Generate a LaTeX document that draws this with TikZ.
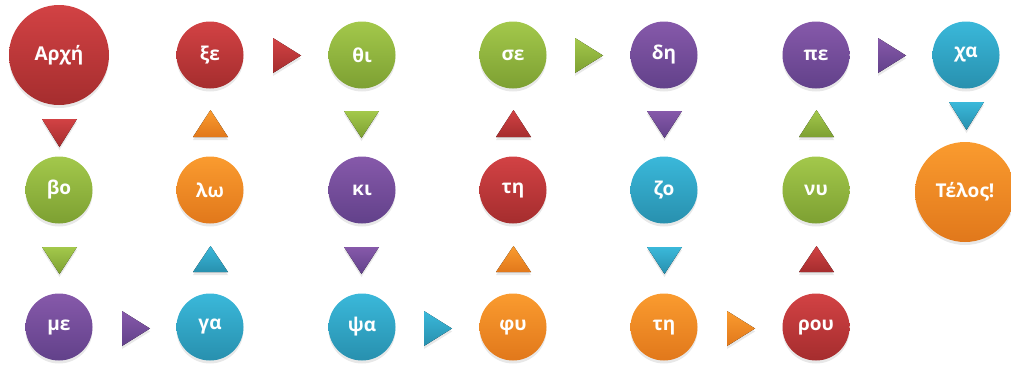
\documentclass[tikz,border=0pt]{standalone}
\usepackage{fontspec}
\setmainfont{Open Sans}
\usetikzlibrary{shadows}

\definecolor{redtop}{HTML}{D24244}
\definecolor{redbot}{HTML}{A52D2E}
\definecolor{greentop}{HTML}{A3C84B}
\definecolor{greenbot}{HTML}{7DA032}
\definecolor{purpletop}{HTML}{8659AA}
\definecolor{purplebot}{HTML}{62418A}
\definecolor{cyantop}{HTML}{3AB8DA}
\definecolor{cyanbot}{HTML}{2890AE}
\definecolor{orangetop}{HTML}{FA9B2F}
\definecolor{orangebot}{HTML}{E1781B}

\tikzset{
  ball/.style={circle, minimum size=67pt, inner sep=0pt, text=white,
    font=\fontsize{19}{23}\selectfont\bfseries,
    drop shadow={opacity=0.18, shadow xshift=0pt, shadow yshift=-3pt}},
  bigball/.style={ball, minimum size=100pt},
  tri/.style={drop shadow={opacity=0.18, shadow xshift=0pt, shadow yshift=-3pt}},
  redf/.style={top color=redtop, bottom color=redbot},
  greenf/.style={top color=greentop, bottom color=greenbot},
  purplef/.style={top color=purpletop, bottom color=purplebot},
  cyanf/.style={top color=cyantop, bottom color=cyanbot},
  orangef/.style={top color=orangetop, bottom color=orangebot},
}

\begin{document}
\begin{tikzpicture}[x=1pt,y=1pt,yscale=-1]
\useasboundingbox (0,0) rectangle (1011,367);

%Shape: Circle, top row
\node[bigball, redf] (arxi) at (59,55) {Αρχή};
\node[ball, redf] (xe) at (210,55) {ξε};
\node[ball, greenf] (thi) at (362,55) {θι};
\node[ball, greenf] (se) at (513,55) {σε};
\node[ball, purplef] (di) at (664,55) {δη};
\node[ball, purplef] (pe) at (816,55) {πε};
\node[ball, cyanf] (xa) at (966,55) {χα};

%Shape: Circle, middle row
\node[ball, greenf] (vo) at (59,190) {βο};
\node[ball, orangef] (lo) at (210,190) {λω};
\node[ball, purplef] (ki) at (362,190) {κι};
\node[ball, redf] (ti) at (513,190) {τη};
\node[ball, cyanf] (zo) at (664,190) {ζο};
\node[ball, greenf] (ny) at (816,190) {νυ};
\node[bigball, orangef] (telos) at (965,192) {Τέλος!};

%Shape: Circle, bottom row
\node[ball, purplef] (me) at (59,327) {με};
\node[ball, cyanf] (ga) at (210,327) {γα};
\node[ball, cyanf] (psa) at (362,327) {ψα};
\node[ball, orangef] (fy) at (513,327) {φυ};
\node[ball, orangef] (tii) at (664,327) {τη};
\node[ball, redf] (rou) at (816,327) {ρου};

%Shape: Triangle, down
\fill[tri, redf] (42,119) -- (77,119) -- (59.5,147) -- cycle;
\fill[tri, greenf] (344,111) -- (379,111) -- (361.5,138) -- cycle;
\fill[tri, purplef] (647,111) -- (682,111) -- (664.5,138) -- cycle;
\fill[tri, cyanf] (949,102) -- (984,102) -- (966.5,130) -- cycle;
\fill[tri, greenf] (42,247) -- (77,247) -- (59.5,274) -- cycle;
\fill[tri, purplef] (344,247) -- (379,247) -- (361.5,274) -- cycle;
\fill[tri, cyanf] (647,247) -- (682,247) -- (664.5,274) -- cycle;

%Shape: Triangle, up
\fill[tri, orangef] (193,137) -- (228,137) -- (210.5,110) -- cycle;
\fill[tri, redf] (496,137) -- (531,137) -- (513.5,110) -- cycle;
\fill[tri, greenf] (799,137) -- (834,137) -- (816.5,110) -- cycle;
\fill[tri, cyanf] (193,272) -- (228,272) -- (210.5,246) -- cycle;
\fill[tri, orangef] (496,272) -- (531,272) -- (513.5,246) -- cycle;
\fill[tri, redf] (799,272) -- (834,272) -- (816.5,246) -- cycle;

%Shape: Triangle, right
\fill[tri, redf] (273,38) -- (273,73) -- (301,55.5) -- cycle;
\fill[tri, greenf] (575,38) -- (575,73) -- (603,55.5) -- cycle;
\fill[tri, purplef] (878,38) -- (878,73) -- (906,55.5) -- cycle;
\fill[tri, purplef] (122,311) -- (122,346) -- (150,328.5) -- cycle;
\fill[tri, cyanf] (424,311) -- (424,346) -- (452,328.5) -- cycle;
\fill[tri, orangef] (727,311) -- (727,346) -- (755,328.5) -- cycle;

\end{tikzpicture}
\end{document}
